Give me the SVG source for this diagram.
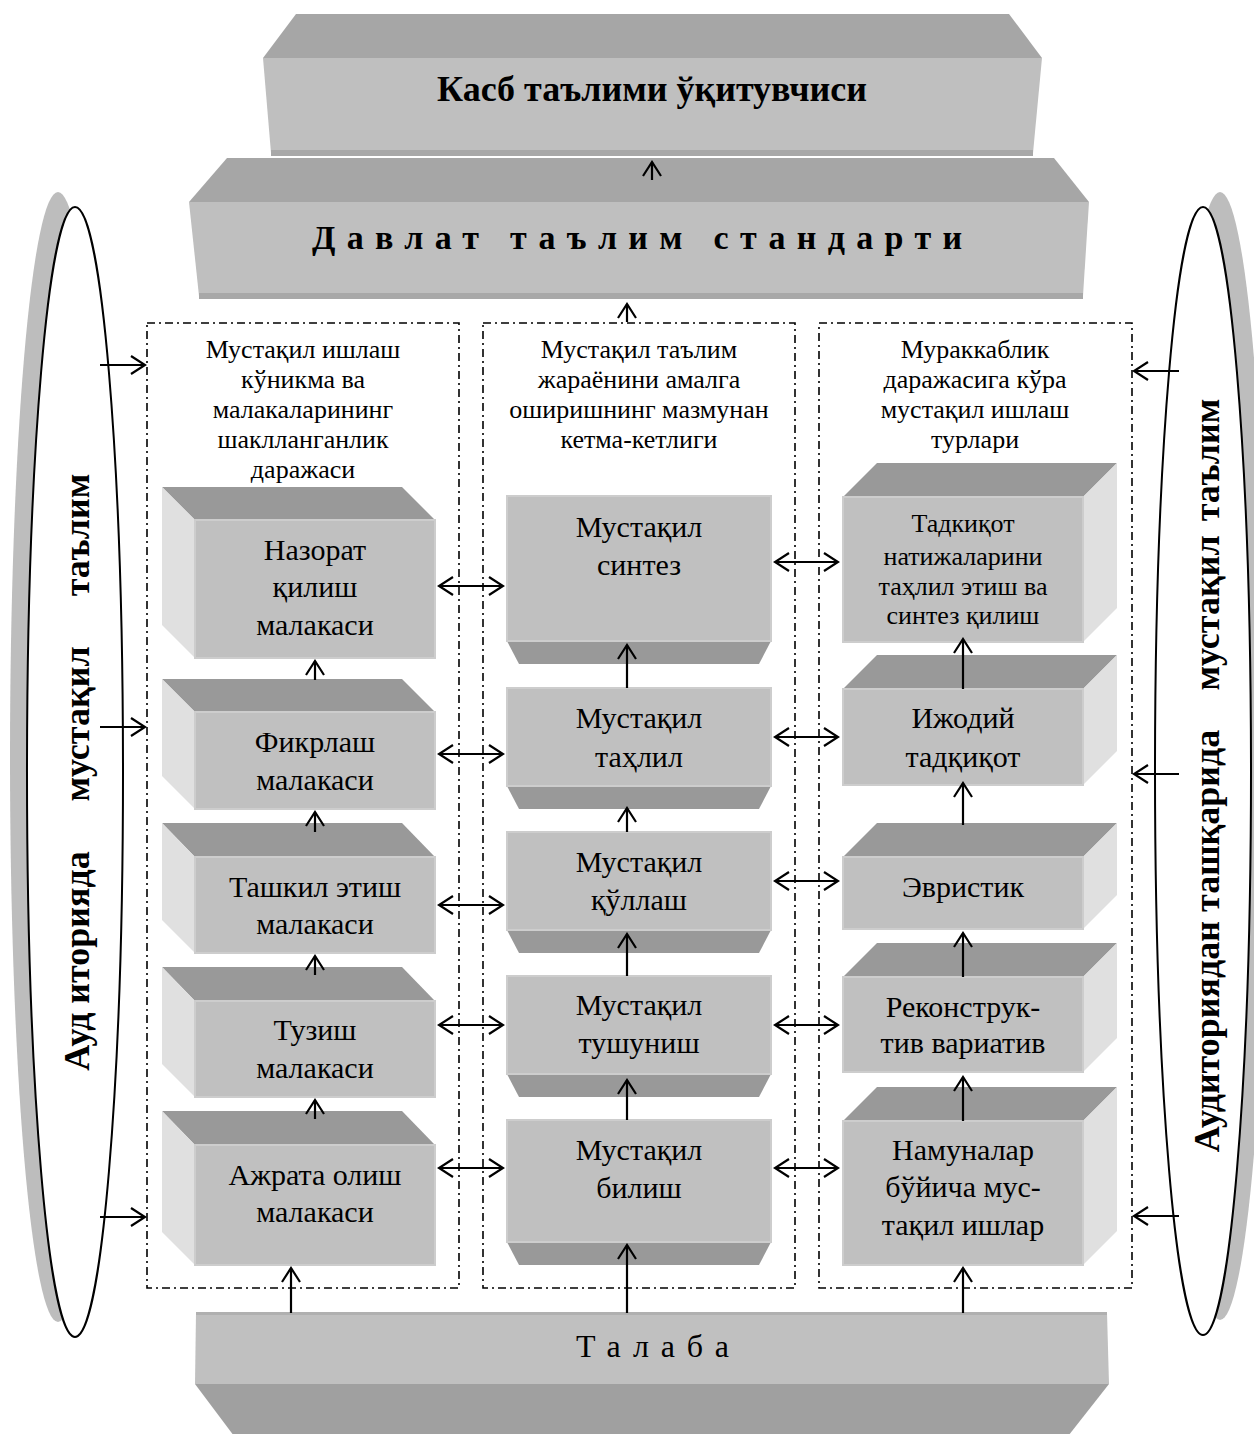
<svg xmlns="http://www.w3.org/2000/svg" width="1254" height="1434" viewBox="0 0 1254 1434">
<defs>
<style>
.bg{fill:#fff}
.ft{fill:#c0c0c0;stroke:#cdcdcd;stroke-width:2}
.tp{fill:#999}
.sd{fill:#e0e0e0}
.bt{fill:#999}
.t{font-family:"Liberation Serif","Times New Roman",serif;font-size:30px;text-anchor:middle;fill:#000}
.h{font-size:26px}
.s{font-size:26px}
.b{font-weight:bold}
.dash{fill:none;stroke:#000;stroke-width:1.6;stroke-dasharray:8 4 2 4}
.c{stroke:#000;stroke-width:2.2;fill:none}
.ell{fill:#fff;stroke:#000;stroke-width:2}
.sh{fill:#bdbdbd}
</style>
<marker id="ah" viewBox="0 0 18 20" refX="16" refY="10" markerWidth="18" markerHeight="20" markerUnits="userSpaceOnUse" orient="auto-start-reverse">
<path d="M2,1 L16,10 L2,19" fill="none" stroke="#000" stroke-width="2.2"/>
</marker>
</defs>
<rect class="bg" x="0" y="0" width="1254" height="1434"/>

<!-- side ellipses -->
<g id="left-ellipse">
<ellipse class="sh" cx="58" cy="757" rx="48" ry="565"/>
<ellipse class="ell" cx="75" cy="772" rx="48" ry="565"/>
<g class="t b" style="font-size:36px">
<text transform="translate(89,961) rotate(-90)">Ауд иторияда</text>
<text transform="translate(89,724) rotate(-90)">мустақил</text>
<text transform="translate(89,535) rotate(-90)">таълим</text>
</g>
</g>
<g id="right-ellipse">
<ellipse class="sh" cx="1220" cy="756" rx="48" ry="564"/>
<ellipse class="ell" cx="1203" cy="771" rx="48" ry="564"/>
<g class="t b" style="font-size:36px">
<text transform="translate(1219,941) rotate(-90)">Аудиториядан ташқарида</text>
<text transform="translate(1219,613) rotate(-90)">мустақил</text>
<text transform="translate(1219,460) rotate(-90)">таълим</text>
</g>
</g>

<!-- top boxes -->
<g id="teacher">
<polygon points="296,14 1009,14 1042,58 263,58" fill="#a6a6a6"/>
<polygon points="263,58 1042,58 1033,153 271,153" fill="#bfbfbf"/>
<polygon points="271,150 1033,150 1033,156 271,156" fill="#a8a8a8"/>
<text class="t b" x="652" y="101" style="font-size:36px">Касб таълими ўқитувчиси</text>
</g>
<g id="standard">
<polygon points="227,158 1054,158 1089,202 189,202" fill="#a6a6a6"/>
<polygon points="189,202 1089,202 1083,296 199,296" fill="#bfbfbf"/>
<polygon points="199,293 1083,293 1083,299 199,299" fill="#a8a8a8"/>
<text class="t b" x="312" y="249" style="font-size:34px;text-anchor:start" textLength="650" lengthAdjust="spacing">Давлат таълим стандарти</text>
</g>

<!-- student -->
<g id="student">
<polygon points="195,1384 1109,1384 1065,1440 237,1440" fill="#a0a0a0"/>
<polygon points="196,1313 1107,1313 1109,1384 195,1384" fill="#c0c0c0"/>
<rect x="196" y="1312" width="911" height="3" fill="#b0b0b0"/>
<text class="t" x="576" y="1357" style="font-size:32px;text-anchor:start" textLength="153" lengthAdjust="spacing">Талаба</text>
</g>

<!-- column frames -->
<g id="col-left">
<rect class="dash" x="147" y="323" width="312" height="965"/>
<text class="t h" x="303" y="358">Мустақил ишлаш</text>
<text class="t h" x="303" y="388">кўникма ва</text>
<text class="t h" x="303" y="418">малакаларининг</text>
<text class="t h" x="303" y="448">шаклланганлик</text>
<text class="t h" x="303" y="478">даражаси</text>
</g>
<g id="col-mid">
<rect class="dash" x="483" y="323" width="312" height="965"/>
<text class="t h" x="639" y="358">Мустақил таълим</text>
<text class="t h" x="639" y="388">жараёнини амалга</text>
<text class="t h" x="639" y="418">оширишнинг мазмунан</text>
<text class="t h" x="639" y="448">кетма-кетлиги</text>
</g>
<g id="col-right">
<rect class="dash" x="819" y="323" width="313" height="965"/>
<text class="t h" x="975" y="358">Мураккаблик</text>
<text class="t h" x="975" y="388">даражасига кўра</text>
<text class="t h" x="975" y="418">мустақил ишлаш</text>
<text class="t h" x="975" y="448">турлари</text>
</g>

<!-- left boxes -->
<g id="L1">
<polygon class="tp" points="162,487 402,487 435,520 195,520"/>
<polygon class="sd" points="162,487 195,520 195,658 162,625"/>
<rect class="ft" x="195" y="520" width="240" height="138"/>
<text class="t" x="315" y="560">Назорат</text>
<text class="t" x="315" y="597">қилиш</text>
<text class="t" x="315" y="635">малакаси</text>
</g>
<g id="L2">
<polygon class="tp" points="162,679 402,679 435,712 195,712"/>
<polygon class="sd" points="162,679 195,712 195,809 162,776"/>
<rect class="ft" x="195" y="712" width="240" height="97"/>
<text class="t" x="315" y="752">Фикрлаш</text>
<text class="t" x="315" y="790">малакаси</text>
</g>
<g id="L3">
<polygon class="tp" points="162,823 402,823 435,857 195,857"/>
<polygon class="sd" points="162,823 195,857 195,953 162,920"/>
<rect class="ft" x="195" y="857" width="240" height="96"/>
<text class="t" x="315" y="897">Ташкил этиш</text>
<text class="t" x="315" y="934">малакаси</text>
</g>
<g id="L4">
<polygon class="tp" points="162,967 402,967 435,1001 195,1001"/>
<polygon class="sd" points="162,967 195,1001 195,1097 162,1064"/>
<rect class="ft" x="195" y="1001" width="240" height="96"/>
<text class="t" x="315" y="1040">Тузиш</text>
<text class="t" x="315" y="1078">малакаси</text>
</g>
<g id="L5">
<polygon class="tp" points="162,1111 402,1111 435,1145 195,1145"/>
<polygon class="sd" points="162,1111 195,1145 195,1265 162,1232"/>
<rect class="ft" x="195" y="1145" width="240" height="120"/>
<text class="t" x="315" y="1185">Ажрата олиш</text>
<text class="t" x="315" y="1222">малакаси</text>
</g>

<!-- middle boxes -->
<g id="M1">
<polygon class="bt" points="507,641 771,641 759,664 519,664"/>
<rect class="ft" x="507" y="496" width="264" height="145"/>
<text class="t" x="639" y="537">Мустақил</text>
<text class="t" x="639" y="575">синтез</text>
</g>
<g id="M2">
<polygon class="bt" points="507,786 771,786 759,809 519,809"/>
<rect class="ft" x="507" y="688" width="264" height="98"/>
<text class="t" x="639" y="728">Мустақил</text>
<text class="t" x="639" y="767">таҳлил</text>
</g>
<g id="M3">
<polygon class="bt" points="507,930 771,930 759,953 519,953"/>
<rect class="ft" x="507" y="832" width="264" height="98"/>
<text class="t" x="639" y="872">Мустақил</text>
<text class="t" x="639" y="910">қўллаш</text>
</g>
<g id="M4">
<polygon class="bt" points="507,1074 771,1074 759,1097 519,1097"/>
<rect class="ft" x="507" y="976" width="264" height="98"/>
<text class="t" x="639" y="1015">Мустақил</text>
<text class="t" x="639" y="1053">тушуниш</text>
</g>
<g id="M5">
<polygon class="bt" points="507,1242 771,1242 759,1265 519,1265"/>
<rect class="ft" x="507" y="1120" width="264" height="122"/>
<text class="t" x="639" y="1160">Мустақил</text>
<text class="t" x="639" y="1198">билиш</text>
</g>

<!-- right boxes -->
<g id="R1">
<polygon class="tp" points="877,463 1117,463 1083,497 843,497"/>
<polygon class="sd" points="1083,497 1117,463 1117,608 1083,642"/>
<rect class="ft" x="843" y="497" width="240" height="145"/>
<text class="t s" x="963" y="532">Тадкиқот</text>
<text class="t s" x="963" y="565">натижаларини</text>
<text class="t s" x="963" y="595">таҳлил этиш ва</text>
<text class="t s" x="963" y="624">синтез қилиш</text>
</g>
<g id="R2">
<polygon class="tp" points="877,655 1117,655 1083,689 843,689"/>
<polygon class="sd" points="1083,689 1117,655 1117,751 1083,785"/>
<rect class="ft" x="843" y="689" width="240" height="96"/>
<text class="t" x="963" y="728">Ижодий</text>
<text class="t" x="963" y="767">тадқиқот</text>
</g>
<g id="R3">
<polygon class="tp" points="877,823 1117,823 1083,857 843,857"/>
<polygon class="sd" points="1083,857 1117,823 1117,895 1083,929"/>
<rect class="ft" x="843" y="857" width="240" height="72"/>
<text class="t" x="963" y="897">Эвристик</text>
</g>
<g id="R4">
<polygon class="tp" points="877,943 1117,943 1083,977 843,977"/>
<polygon class="sd" points="1083,977 1117,943 1117,1038 1083,1072"/>
<rect class="ft" x="843" y="977" width="240" height="95"/>
<text class="t" x="963" y="1017">Реконструк-</text>
<text class="t" x="963" y="1053">тив  вариатив</text>
</g>
<g id="R5">
<polygon class="tp" points="877,1087 1117,1087 1083,1121 843,1121"/>
<polygon class="sd" points="1083,1121 1117,1087 1117,1231 1083,1265"/>
<rect class="ft" x="843" y="1121" width="240" height="144"/>
<text class="t" x="963" y="1160">Намуналар</text>
<text class="t" x="963" y="1197">бўйича мус-</text>
<text class="t" x="963" y="1235">тақил  ишлар</text>
</g>

<!-- connectors -->
<g id="connectors" class="c" marker-end="url(#ah)">
<line x1="652" y1="180" x2="652" y2="162"/>
<line x1="627" y1="322" x2="627" y2="304"/>
<line x1="315" y1="680" x2="315" y2="661"/>
<line x1="315" y1="832" x2="315" y2="812"/>
<line x1="315" y1="975" x2="315" y2="956"/>
<line x1="315" y1="1119" x2="315" y2="1100"/>
<line x1="291" y1="1313" x2="291" y2="1268"/>
<line x1="627" y1="688" x2="627" y2="645"/>
<line x1="627" y1="832" x2="627" y2="808"/>
<line x1="627" y1="976" x2="627" y2="934"/>
<line x1="627" y1="1120" x2="627" y2="1080"/>
<line x1="627" y1="1313" x2="627" y2="1245"/>
<line x1="963" y1="689" x2="963" y2="639"/>
<line x1="963" y1="825" x2="963" y2="783"/>
<line x1="963" y1="977" x2="963" y2="933"/>
<line x1="963" y1="1121" x2="963" y2="1077"/>
<line x1="963" y1="1313" x2="963" y2="1268"/>
<line x1="439" y1="586" x2="503" y2="586" marker-start="url(#ah)"/>
<line x1="439" y1="754" x2="503" y2="754" marker-start="url(#ah)"/>
<line x1="439" y1="905" x2="503" y2="905" marker-start="url(#ah)"/>
<line x1="439" y1="1025" x2="503" y2="1025" marker-start="url(#ah)"/>
<line x1="439" y1="1168" x2="503" y2="1168" marker-start="url(#ah)"/>
<line x1="775" y1="562" x2="838" y2="562" marker-start="url(#ah)"/>
<line x1="775" y1="737" x2="838" y2="737" marker-start="url(#ah)"/>
<line x1="775" y1="881" x2="838" y2="881" marker-start="url(#ah)"/>
<line x1="775" y1="1025" x2="838" y2="1025" marker-start="url(#ah)"/>
<line x1="775" y1="1168" x2="838" y2="1168" marker-start="url(#ah)"/>
<line x1="100" y1="365" x2="145" y2="365"/>
<line x1="100" y1="727" x2="145" y2="727"/>
<line x1="100" y1="1217" x2="145" y2="1217"/>
<line x1="1179" y1="371" x2="1134" y2="371"/>
<line x1="1179" y1="774" x2="1134" y2="774"/>
<line x1="1179" y1="1216" x2="1134" y2="1216"/>
</g>
</svg>
